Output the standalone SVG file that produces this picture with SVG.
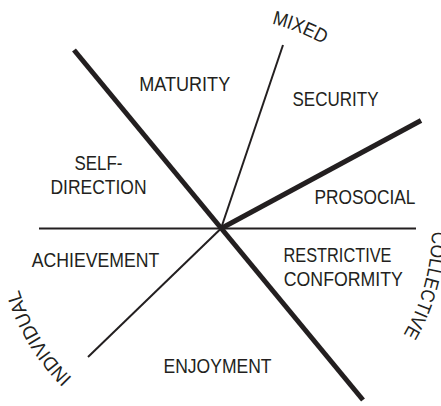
<svg xmlns="http://www.w3.org/2000/svg" xmlns:xlink="http://www.w3.org/1999/xlink" width="441" height="406" viewBox="0 0 441 406">
  <style>
    .thin { stroke: #231f20; stroke-width: 2; fill: none; stroke-linecap: butt; }
    .thick { stroke: #231f20; stroke-width: 5; fill: none; stroke-linecap: butt; }
    .lbl { font-family: "Liberation Sans", Arial, sans-serif; font-size: 19.5px; fill: #231f20; text-anchor: middle; }
  </style>
  <defs>
    <!-- clockwise arcs (r = 211) round the hub at (221, 228.5) for the axis names -->
    <path id="arcMixed" d="M189.81,19.82 A211,211 0 0 1 386.13,97.15"/>
    <path id="arcCollective" d="M413,141 A211,211 0 0 1 340.51,402.39"/>
    <path id="arcIndividual" d="M152.3,428 A211,211 0 0 1 12.6,195.49"/>
  </defs>
  <rect width="441" height="406" fill="#ffffff"/>

  <g id="connectors">
    <line class="thin" x1="39" y1="228.5" x2="416" y2="228.5"/>
    <line class="thick" x1="74" y1="50" x2="363" y2="400"/>
    <line class="thick" x1="221" y1="228.5" x2="421" y2="120.5"/>
    <line class="thin" x1="221" y1="228.5" x2="283" y2="45"/>
    <line class="thin" x1="221" y1="228.5" x2="88" y2="357"/>
  </g>

  <g id="maturity"><text class="lbl" x="184.7" y="91" textLength="91" lengthAdjust="spacingAndGlyphs">MATURITY</text></g>
  <g id="security"><text class="lbl" x="335.5" y="106" textLength="86" lengthAdjust="spacingAndGlyphs">SECURITY</text></g>
  <g id="self-direction">
    <text class="lbl" x="98.5" y="169.5" textLength="48" lengthAdjust="spacingAndGlyphs">SELF-</text>
    <text class="lbl" x="98.5" y="194" textLength="96" lengthAdjust="spacingAndGlyphs">DIRECTION</text>
  </g>
  <g id="prosocial"><text class="lbl" x="365" y="204" textLength="101" lengthAdjust="spacingAndGlyphs">PROSOCIAL</text></g>
  <g id="achievement"><text class="lbl" x="95.5" y="267.3" textLength="127.5" lengthAdjust="spacingAndGlyphs">ACHIEVEMENT</text></g>
  <g id="restrictive-conformity">
    <text class="lbl" x="337.5" y="261.5" textLength="108" lengthAdjust="spacingAndGlyphs">RESTRICTIVE</text>
    <text class="lbl" x="343.3" y="286" textLength="119" lengthAdjust="spacingAndGlyphs">CONFORMITY</text>
  </g>
  <g id="enjoyment"><text class="lbl" x="217.5" y="373.3" textLength="108" lengthAdjust="spacingAndGlyphs">ENJOYMENT</text></g>

  <g id="mixed"><text class="lbl"><textPath xlink:href="#arcMixed" href="#arcMixed" startOffset="50%" textLength="56" lengthAdjust="spacingAndGlyphs">MIXED</textPath></text></g>
  <g id="collective"><text class="lbl"><textPath xlink:href="#arcCollective" href="#arcCollective" startOffset="50%" textLength="108" lengthAdjust="spacingAndGlyphs">COLLECTIVE</textPath></text></g>
  <g id="individual"><text class="lbl"><textPath xlink:href="#arcIndividual" href="#arcIndividual" startOffset="50%" textLength="104" lengthAdjust="spacingAndGlyphs">INDIVIDUAL</textPath></text></g>
</svg>
